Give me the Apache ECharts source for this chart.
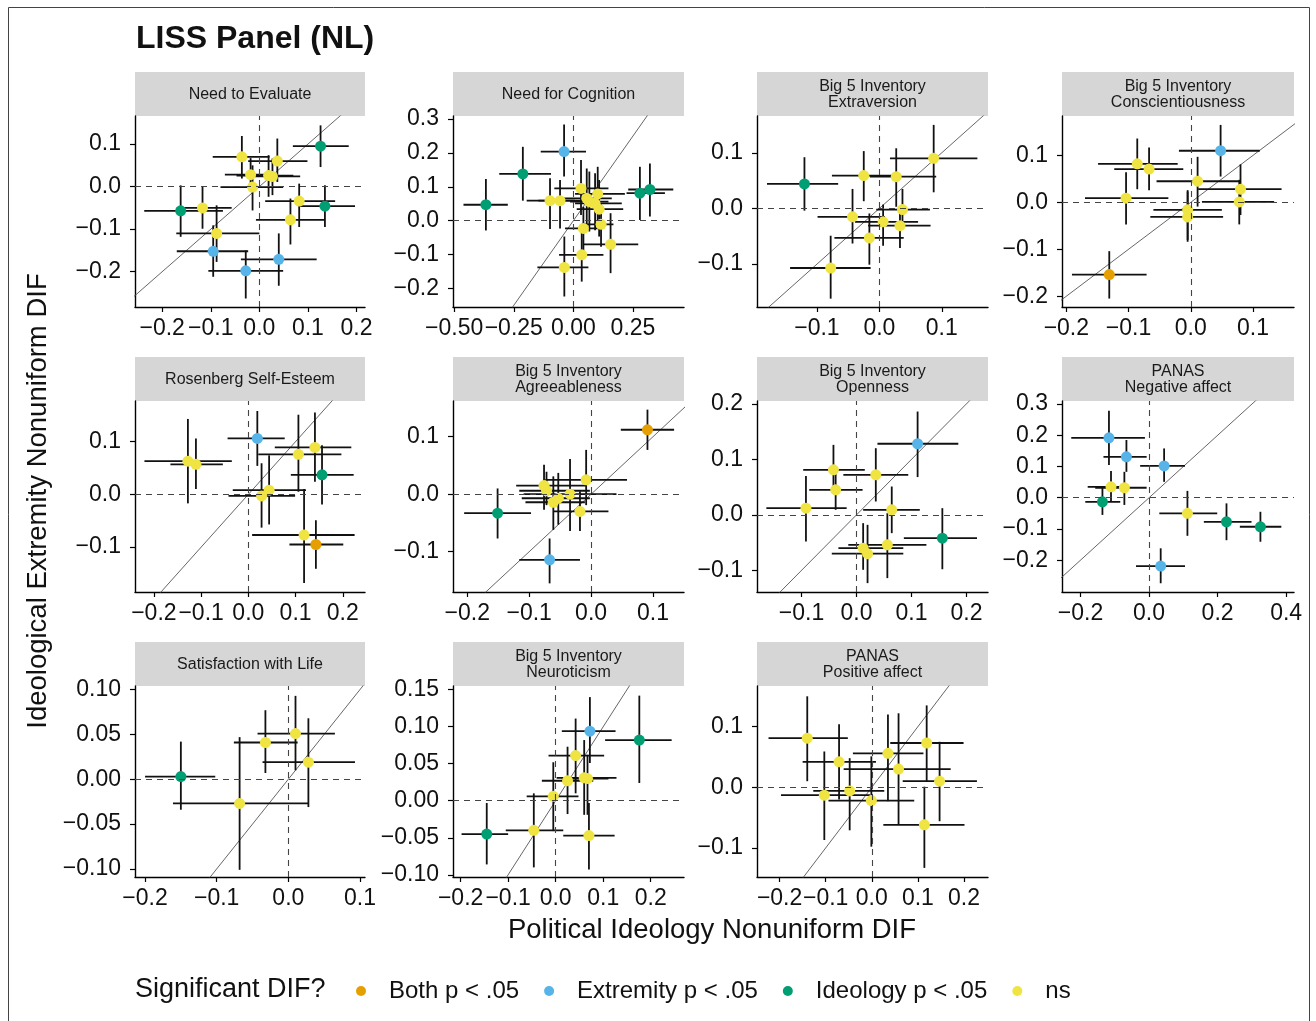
<!DOCTYPE html>
<html>
<head>
<meta charset="utf-8">
<script src="https://cdn.jsdelivr.net/npm/echarts@6/dist/echarts.min.js"></script>
<style>
html,body{margin:0;padding:0;background:#fff}
#chart{width:1316px;height:1021px}
</style>
</head>
<body>
<div id="chart"></div>
<script>
// Facet strip titles (one or two lines)
const facetTitles = [
  ['Need to Evaluate'], ['Need for Cognition'], ['Big 5 Inventory', 'Extraversion'], ['Big 5 Inventory', 'Conscientiousness'],
  ['Rosenberg Self-Esteem'], ['Big 5 Inventory', 'Agreeableness'], ['Big 5 Inventory', 'Openness'], ['PANAS', 'Negative affect'],
  ['Satisfaction with Life'], ['Big 5 Inventory', 'Neuroticism'], ['PANAS', 'Positive affect']
];

// Significance groups and legend labels
const sigKeys = ['both', 'ext', 'ideo', 'ns'];
const sigLabels = ['Both p < .05', 'Extremity p < .05', 'Ideology p < .05', 'ns'];

// Item rows: [ideology DIF, extremity DIF, ideology lo, ideology hi, extremity lo, extremity hi, significance]
const needToEvaluate = [
  [0.126, 0.095, 0.069, 0.184, 0.046, 0.144, 'ideo'],
  [-0.036, 0.070, -0.096, 0.021, 0.019, 0.119, 'ns'],
  [0.037, 0.060, -0.023, 0.099, 0.011, 0.113, 'ns'],
  [-0.018, 0.028, -0.071, 0.025, -0.011, 0.067, 'ns'],
  [0.019, 0.026, -0.047, 0.070, -0.024, 0.074, 'ns'],
  [0.027, 0.024, -0.012, 0.084, -0.020, 0.066, 'ns'],
  [-0.014, -0.001, -0.080, 0.049, -0.056, 0.050, 'ns'],
  [0.082, -0.034, 0.012, 0.156, -0.095, 0.007, 'ns'],
  [0.135, -0.046, 0.084, 0.197, -0.095, 0.003, 'ideo'],
  [0.064, -0.078, -0.007, 0.135, -0.136, -0.028, 'ns'],
  [-0.162, -0.057, -0.237, -0.075, -0.118, 0.003, 'ideo'],
  [-0.117, -0.050, -0.170, -0.057, -0.099, 0.001, 'ns'],
  [-0.088, -0.110, -0.171, 0.000, -0.177, -0.044, 'ns'],
  [-0.095, -0.152, -0.170, -0.023, -0.212, -0.091, 'ext'],
  [-0.028, -0.198, -0.105, 0.049, -0.263, -0.150, 'ext'],
  [0.040, -0.171, -0.038, 0.118, -0.233, -0.110, 'ext']
];
const needForCognition = [
  [-0.039, 0.204, -0.137, 0.053, 0.130, 0.284, 'ext'],
  [-0.212, 0.138, -0.311, -0.094, 0.059, 0.218, 'ideo'],
  [-0.367, 0.047, -0.461, -0.275, -0.029, 0.123, 'ideo'],
  [-0.098, 0.059, -0.196, 0.007, -0.025, 0.125, 'ns'],
  [-0.056, 0.059, -0.147, 0.063, -0.023, 0.120, 'ns'],
  [0.032, 0.095, -0.080, 0.147, 0.017, 0.179, 'ns'],
  [0.056, 0.066, -0.042, 0.161, -0.018, 0.154, 'ns'],
  [0.067, 0.056, -0.014, 0.147, -0.032, 0.145, 'ns'],
  [0.091, 0.051, 0.007, 0.203, -0.028, 0.140, 'ns'],
  [0.108, 0.034, 0.014, 0.209, -0.047, 0.120, 'ns'],
  [0.102, 0.079, 0.007, 0.216, -0.008, 0.159, 'ns'],
  [0.042, -0.023, -0.035, 0.119, -0.091, 0.041, 'ns'],
  [0.116, -0.011, 0.035, 0.168, -0.077, 0.051, 'ns'],
  [0.156, -0.070, 0.042, 0.272, -0.155, 0.022, 'ns'],
  [0.035, -0.101, -0.060, 0.126, -0.180, -0.018, 'ns'],
  [-0.038, -0.138, -0.151, 0.063, -0.224, -0.047, 'ns'],
  [0.279, 0.081, 0.223, 0.384, 0.002, 0.159, 'ideo'],
  [0.321, 0.092, 0.230, 0.419, 0.012, 0.169, 'ideo']
];
const extraversion = [
  [-0.120, 0.044, -0.180, -0.066, -0.004, 0.092, 'ideo'],
  [-0.025, 0.059, -0.076, 0.028, 0.013, 0.103, 'ns'],
  [0.027, 0.057, -0.015, 0.091, 0.003, 0.108, 'ns'],
  [0.087, 0.090, 0.017, 0.157, 0.029, 0.150, 'ns'],
  [0.037, -0.002, -0.005, 0.081, -0.036, 0.035, 'ns'],
  [-0.043, -0.015, -0.099, 0.009, -0.063, 0.035, 'ns'],
  [0.006, -0.024, -0.039, 0.062, -0.067, 0.007, 'ns'],
  [0.033, -0.031, -0.018, 0.082, -0.071, -0.002, 'ns'],
  [-0.016, -0.053, -0.072, 0.039, -0.101, -0.009, 'ns'],
  [-0.078, -0.107, -0.143, -0.014, -0.162, -0.049, 'ns']
];
const conscientiousness = [
  [0.048, 0.110, -0.019, 0.111, 0.055, 0.165, 'ext'],
  [-0.086, 0.082, -0.149, -0.021, 0.028, 0.136, 'ns'],
  [-0.067, 0.071, -0.123, -0.012, 0.026, 0.117, 'ns'],
  [0.011, 0.045, -0.055, 0.079, -0.009, 0.097, 'ns'],
  [0.080, 0.028, 0.012, 0.146, -0.027, 0.081, 'ns'],
  [0.078, 0.001, 0.018, 0.134, -0.047, 0.048, 'ns'],
  [-0.104, 0.009, -0.170, -0.036, -0.047, 0.064, 'ns'],
  [-0.005, -0.016, -0.060, 0.050, -0.084, 0.026, 'ns'],
  [-0.005, -0.031, -0.065, 0.052, -0.080, 0.023, 'ns'],
  [-0.131, -0.154, -0.191, -0.071, -0.205, -0.104, 'both']
];
const selfEsteem = [
  [0.019, 0.106, -0.044, 0.077, 0.054, 0.158, 'ext'],
  [-0.128, 0.063, -0.220, -0.035, -0.017, 0.143, 'ns'],
  [-0.111, 0.057, -0.165, -0.054, 0.010, 0.106, 'ns'],
  [0.141, 0.089, 0.056, 0.218, 0.024, 0.155, 'ns'],
  [0.106, 0.076, 0.021, 0.197, 0.005, 0.151, 'ns'],
  [0.156, 0.037, 0.090, 0.223, -0.019, 0.093, 'ideo'],
  [0.044, 0.008, -0.033, 0.122, -0.057, 0.074, 'ns'],
  [0.028, -0.003, -0.042, 0.099, -0.063, 0.059, 'ns'],
  [0.118, -0.077, 0.008, 0.225, -0.168, 0.010, 'ns'],
  [0.143, -0.095, 0.087, 0.201, -0.141, -0.049, 'both']
];
const agreeableness = [
  [0.091, 0.112, 0.048, 0.134, 0.077, 0.147, 'both'],
  [-0.008, 0.025, -0.074, 0.058, -0.019, 0.077, 'ns'],
  [-0.076, 0.015, -0.121, -0.007, -0.027, 0.051, 'ns'],
  [-0.072, 0.006, -0.116, -0.002, -0.019, 0.039, 'ns'],
  [-0.034, 0.000, -0.109, 0.041, -0.064, 0.061, 'ns'],
  [-0.053, -0.007, -0.112, -0.002, -0.053, 0.037, 'ns'],
  [-0.061, -0.014, -0.106, -0.010, -0.062, 0.031, 'ns'],
  [-0.018, -0.030, -0.061, 0.028, -0.064, 0.005, 'ns'],
  [-0.151, -0.033, -0.205, -0.097, -0.077, 0.010, 'ideo'],
  [-0.067, -0.114, -0.116, -0.018, -0.155, -0.077, 'ext']
];
const openness = [
  [0.111, 0.128, 0.038, 0.185, 0.068, 0.186, 'ext'],
  [-0.042, 0.081, -0.097, 0.015, 0.038, 0.126, 'ns'],
  [0.035, 0.072, -0.024, 0.094, 0.024, 0.120, 'ns'],
  [-0.038, 0.045, -0.086, 0.011, 0.009, 0.081, 'ns'],
  [-0.092, 0.012, -0.164, -0.018, -0.048, 0.070, 'ns'],
  [0.064, 0.009, 0.012, 0.115, -0.033, 0.051, 'ns'],
  [0.156, -0.042, 0.086, 0.219, -0.098, 0.012, 'ideo'],
  [0.056, -0.054, -0.015, 0.127, -0.114, 0.003, 'ns'],
  [0.012, -0.060, -0.033, 0.085, -0.099, -0.015, 'ns'],
  [0.020, -0.070, -0.045, 0.085, -0.123, -0.018, 'ns']
];
const negativeAffect = [
  [-0.117, 0.192, -0.227, -0.012, 0.105, 0.279, 'ext'],
  [-0.066, 0.131, -0.133, -0.007, 0.083, 0.185, 'ext'],
  [0.044, 0.102, -0.026, 0.105, 0.051, 0.158, 'ext'],
  [-0.111, 0.035, -0.179, -0.072, -0.013, 0.086, 'ns'],
  [-0.072, 0.032, -0.157, -0.007, -0.023, 0.083, 'ns'],
  [-0.136, -0.013, -0.186, -0.084, -0.055, 0.035, 'ideo'],
  [0.112, -0.050, 0.030, 0.199, -0.122, 0.022, 'ns'],
  [0.226, -0.077, 0.160, 0.299, -0.136, -0.018, 'ideo'],
  [0.325, -0.093, 0.265, 0.386, -0.141, -0.045, 'ideo'],
  [0.034, -0.219, -0.038, 0.105, -0.274, -0.162, 'ext']
];
const lifeSatisfaction = [
  [-0.150, 0.003, -0.200, -0.102, -0.034, 0.042, 'ideo'],
  [-0.032, 0.041, -0.076, 0.013, 0.007, 0.077, 'ns'],
  [0.010, 0.051, -0.043, 0.065, 0.010, 0.093, 'ns'],
  [0.028, 0.019, -0.036, 0.093, -0.031, 0.068, 'ns'],
  [-0.068, -0.027, -0.161, 0.028, -0.101, 0.047, 'ns']
];
const neuroticism = [
  [0.072, 0.094, 0.013, 0.126, 0.051, 0.140, 'ext'],
  [0.176, 0.082, 0.104, 0.244, 0.024, 0.142, 'ideo'],
  [0.042, 0.061, -0.015, 0.102, 0.010, 0.111, 'ns'],
  [0.025, 0.027, -0.029, 0.079, -0.018, 0.073, 'ns'],
  [0.060, 0.031, 0.002, 0.128, -0.019, 0.082, 'ns'],
  [0.067, 0.030, 0.013, 0.111, -0.019, 0.062, 'ns'],
  [-0.005, 0.006, -0.061, 0.048, -0.041, 0.052, 'ns'],
  [-0.046, -0.040, -0.105, 0.016, -0.090, 0.010, 'ns'],
  [-0.145, -0.045, -0.198, -0.100, -0.086, -0.003, 'ideo'],
  [0.070, -0.047, 0.016, 0.124, -0.093, -0.003, 'ns']
];
const positiveAffect = [
  [-0.140, 0.081, -0.224, -0.052, 0.010, 0.150, 'ns'],
  [-0.071, 0.042, -0.150, 0.009, -0.020, 0.104, 'ns'],
  [0.035, 0.056, -0.041, 0.112, -0.023, 0.120, 'ns'],
  [0.119, 0.073, 0.040, 0.199, 0.009, 0.135, 'ns'],
  [0.058, 0.030, -0.061, 0.171, -0.061, 0.122, 'ns'],
  [0.147, 0.010, 0.067, 0.228, -0.056, 0.075, 'ns'],
  [-0.103, -0.013, -0.197, -0.004, -0.087, 0.059, 'ns'],
  [-0.048, -0.006, -0.127, 0.027, -0.071, 0.048, 'ns'],
  [-0.001, -0.022, -0.094, 0.092, -0.098, 0.051, 'ns'],
  [0.114, -0.062, 0.025, 0.201, -0.133, 0.001, 'ns']
];
const facetData = [needToEvaluate, needForCognition, extraversion, conscientiousness,
  selfEsteem, agreeableness, openness, negativeAffect,
  lifeSatisfaction, neuroticism, positiveAffect];

// Free scales per facet: [min, max]
const xRanges = [[-0.256, 0.2175], [-0.505, 0.464], [-0.196, 0.174], [-0.207, 0.166],
  [-0.240, 0.247], [-0.223, 0.150], [-0.181, 0.239], [-0.254, 0.423],
  [-0.214, 0.107], [-0.216, 0.270], [-0.249, 0.252]];
const yRanges = [[-0.283, 0.166], [-0.255, 0.309], [-0.177, 0.166], [-0.223, 0.184],
  [-0.185, 0.177], [-0.170, 0.162], [-0.139, 0.205], [-0.302, 0.310],
  [-0.109, 0.104], [-0.103, 0.155], [-0.148, 0.167]];

// Tick values per facet
const xTicks = [[-0.2, -0.1, 0, 0.1, 0.2], [-0.5, -0.25, 0, 0.25], [-0.1, 0, 0.1], [-0.2, -0.1, 0, 0.1],
  [-0.2, -0.1, 0, 0.1, 0.2], [-0.2, -0.1, 0, 0.1], [-0.1, 0, 0.1, 0.2], [-0.2, 0, 0.2, 0.4],
  [-0.2, -0.1, 0, 0.1], [-0.2, -0.1, 0, 0.1, 0.2], [-0.2, -0.1, 0, 0.1, 0.2]];
const yTicks = [[-0.2, -0.1, 0, 0.1], [-0.2, -0.1, 0, 0.1, 0.2, 0.3], [-0.1, 0, 0.1], [-0.2, -0.1, 0, 0.1],
  [-0.1, 0, 0.1], [-0.1, 0, 0.1], [-0.1, 0, 0.1, 0.2], [-0.2, -0.1, 0, 0.1, 0.2, 0.3],
  [-0.1, -0.05, 0, 0.05, 0.1], [-0.1, -0.05, 0, 0.05, 0.1, 0.15], [-0.1, 0, 0.1]];
const xDecimals = [1, 2, 1, 1, 1, 1, 1, 1, 1, 1, 1];
const yDecimals = [1, 1, 1, 1, 1, 1, 1, 1, 2, 2, 1];

// ---- layout & style ----
const FONT = '"Liberation Sans", Arial, Helvetica, sans-serif';
const sigColors = { both: '#E69F00', ext: '#56B4E9', ideo: '#009E73', ns: '#F0E442' };
const colLeft = [135, 453, 757, 1062];
const colWidth = [230, 231, 231, 232];
const rowTop = [116, 401, 686];
const plotH = 191;
const stripH = 44;

function tickFormatter(dec) {
  return function (v) {
    const s = Math.abs(v) < 1e-9 ? (0).toFixed(dec) : Number(v).toFixed(dec);
    return s.replace('-', '\u2212');
  };
}

function renderBars(params, api) {
  const x = api.value(0), y = api.value(1);
  const a = api.coord([api.value(2), y]);
  const b = api.coord([api.value(3), y]);
  const c = api.coord([x, api.value(4)]);
  const d = api.coord([x, api.value(5)]);
  const st = { stroke: '#111', lineWidth: 1.8 };
  return {
    type: 'group',
    children: [
      { type: 'line', shape: { x1: a[0], y1: a[1], x2: b[0], y2: b[1] }, style: st },
      { type: 'line', shape: { x1: c[0], y1: c[1], x2: d[0], y2: d[1] }, style: st }
    ]
  };
}

const grids = [], xAxes = [], yAxes = [], series = [], graphics = [];

facetData.forEach(function (rows, i) {
  const col = i % 4, row = Math.floor(i / 4);
  const left = colLeft[col], top = rowTop[row], w = colWidth[col];
  grids.push({ left: left, top: top, width: w, height: plotH, containLabel: false });

  const axisCommon = {
    type: 'value', gridIndex: i, splitLine: { show: false },
    axisLine: { show: true, onZero: false, lineStyle: { color: '#000', width: 1.4 } }
  };
  xAxes.push(Object.assign({}, axisCommon, {
    min: xRanges[i][0], max: xRanges[i][1],
    axisTick: { show: true, length: 5, customValues: xTicks[i], lineStyle: { color: '#000', width: 1.2 } },
    axisLabel: { customValues: xTicks[i], formatter: tickFormatter(xDecimals[i]), fontSize: 23,
      fontFamily: FONT, color: '#111', margin: 10 }
  }));
  yAxes.push(Object.assign({}, axisCommon, {
    min: yRanges[i][0], max: yRanges[i][1],
    axisTick: { show: true, length: 5, customValues: yTicks[i], lineStyle: { color: '#000', width: 1.2 } },
    axisLabel: { customValues: yTicks[i], formatter: tickFormatter(yDecimals[i]), fontSize: 23,
      fontFamily: FONT, color: '#111', margin: 14 }
  }));

  // identity line and zero reference lines
  series.push({
    type: 'line', xAxisIndex: i, yAxisIndex: i, data: [[-1, -1], [1, 1]],
    symbol: 'none', silent: true, clip: true, z: 1,
    lineStyle: { color: '#555', width: 0.9 },
    markLine: {
      silent: true, symbol: 'none', label: { show: false },
      lineStyle: { color: '#444', width: 1.1, type: [6, 5] },
      data: [{ xAxis: 0 }, { yAxis: 0 }]
    }
  });

  // confidence intervals
  series.push({
    type: 'custom', xAxisIndex: i, yAxisIndex: i, renderItem: renderBars, clip: true, z: 2,
    silent: true,
    encode: { x: [0, 2, 3], y: [1, 4, 5] },
    data: rows.map(function (r) { return r.slice(0, 6); })
  });

  // point estimates by significance group
  sigKeys.forEach(function (k, gi) {
    series.push({
      type: 'scatter', name: sigLabels[gi], xAxisIndex: i, yAxisIndex: i, z: 3,
      symbol: 'circle', symbolSize: 11,
      itemStyle: { color: sigColors[k], opacity: 1 },
      data: rows.filter(function (r) { return r[6] === k; }).map(function (r) { return [r[0], r[1]]; })
    });
  });

  // facet strip
  const sTop = top - stripH;
  graphics.push({ type: 'rect', shape: { x: left, y: sTop, width: w, height: stripH }, style: { fill: '#d6d6d6' }, silent: true });
  graphics.push({
    type: 'text', x: left + w / 2, y: sTop + stripH / 2 + 1, silent: true,
    style: { text: facetTitles[i].join('\n'), fontSize: 16, lineHeight: 16, fontFamily: FONT,
      fill: '#1a1a1a', align: 'center', verticalAlign: 'middle' }
  });
});

// axis titles and legend heading
graphics.push({
  type: 'text', x: 712, y: 930, silent: true,
  style: { text: 'Political Ideology Nonuniform DIF', fontSize: 27.5, fontFamily: FONT, fill: '#111', align: 'center', verticalAlign: 'middle' }
});
graphics.push({
  type: 'text', x: 38, y: 501, rotation: Math.PI / 2, silent: true,
  style: { text: 'Ideological Extremity Nonuniform DIF', fontSize: 27.5, fontFamily: FONT, fill: '#111', align: 'center', verticalAlign: 'middle' }
});
graphics.push({
  type: 'text', x: 135, y: 990, silent: true,
  style: { text: 'Significant DIF?', fontSize: 27, fontFamily: FONT, fill: '#111', align: 'left', verticalAlign: 'middle' }
});
// outer frame
graphics.push({
  type: 'rect', silent: true, shape: { x: 8.5, y: 7.5, width: 1301, height: 1040 },
  style: { fill: 'none', stroke: '#444', lineWidth: 1 }
});

const chart = echarts.init(document.getElementById('chart'), null, { renderer: 'canvas' });
chart.setOption({
  animation: false,
  backgroundColor: '#fff',
  title: {
    text: 'LISS Panel (NL)', left: 131, top: 18,
    textStyle: { fontSize: 32, fontWeight: 'bold', fontFamily: FONT, color: '#111' }
  },
  legend: {
    data: sigLabels.map(function (n) { return { name: n, icon: 'circle' }; }),
    left: 351, top: 974, itemWidth: 10, itemHeight: 10, itemGap: 25,
    textStyle: { fontSize: 24, fontFamily: FONT, color: '#111', padding: [0, 0, 0, 18] },
    selectedMode: false
  },
  grid: grids,
  xAxis: xAxes,
  yAxis: yAxes,
  series: series,
  graphic: graphics
});
</script>
</body>
</html>
